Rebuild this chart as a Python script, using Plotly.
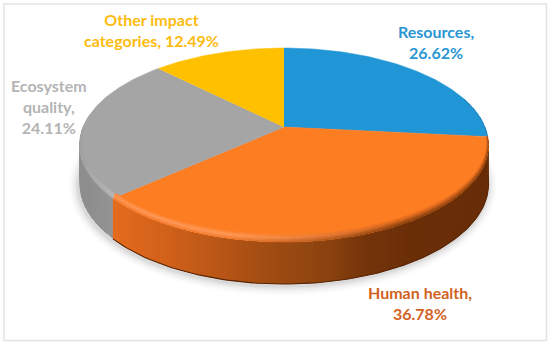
import numpy as np
import plotly.graph_objects as go

# ---- data ----
categories = ["Resources", "Human health", "Ecosystem quality", "Other impact categories"]
values = [26.62, 36.78, 24.11, 12.49]
label_lines = ["Resources,<br>26.62%", "Human health,<br>36.78%",
               "Ecosystem<br>quality,<br>24.11%", "Other impact<br>categories, 12.49%"]

# ---- styling / projection ----
colors = ["#2196d6", "#fd7d23", "#a5a5a5", "#ffc000"]
text_colors = ["#2a96d2", "#d2621e", "#b4b4b4", "#fdbb10"]
label_pos = [(436, 41.5), (420, 303), (49, 106), (151, 29.5)]
CX, CY, A, P, C = 284.0, 127.0, 201.0, 70.1, 0.1856
FONT = "Lato"


def proj(theta_deg, r=1.0):
    th = np.radians(theta_deg)
    u, v = r * np.sin(th), r * np.cos(th)
    w = 1 + C * v
    return CX + A * u / w, (CY - P * v) / w


def bottom(theta_deg):
    x, y = proj(theta_deg)
    v = np.cos(np.radians(theta_deg))
    return x, y + 38 - 4 * v


def rim(theta_deg, t):
    """point on the bevel: t=0 inner edge, t=1 the very rim"""
    x, y = proj(theta_deg, 1 - 0.012 * (1 - t))
    return x, y - 7.5 * (1 - t) * max(0.0, -np.cos(np.radians(theta_deg)) * 0.85 + 0.15)


def rgb(h):
    return np.array([int(h[i:i + 2], 16) for i in (1, 3, 5)], float)


def ramp(x, xs, cols):
    arr = np.array([rgb(c) for c in cols])
    return np.array([np.interp(x, xs, arr[:, i]) for i in range(3)])


def css(c):
    return "rgb(%d,%d,%d)" % tuple(np.round(c))


fig = go.Figure()


def poly(xs, ys, color, lw=0):
    fig.add_trace(go.Scatter(x=list(xs), y=list(ys), mode="lines", fill="toself",
                             fillcolor=color, line=dict(color=color, width=lw),
                             hoverinfo="skip", showlegend=False))


edges = np.concatenate([[0], np.cumsum(values)]) / sum(values) * 360
ALL = np.linspace(0, 360, 241)

# soft shadow under the disc
for grow, alpha in [(9, .018), (7, .03), (5, .04), (3, .05), (1.5, .06)]:
    pts = [bottom(t) for t in ALL]
    xs = [CX - 1 + (p[0] - CX) * (1 + grow / 204) for p in pts]
    ys = [186 + (p[1] - 184) * (1 + grow / 100) for p in pts]
    poly(xs, ys, "rgba(60,60,60,%g)" % alpha)

# side wall
ORANGE_X = [110, 170, 270, 330, 365, 410, 490]
ORANGE_C = ["#e56c1d", "#d0601a", "#a04c12", "#8a420e", "#74340a", "#6b2f08", "#682d07"]
GREY_X = [78, 112]
GREY_C = ["#8c8c8c", "#939393"]

for i in (2, 1):
    t0, t1 = (edges[1], edges[2]) if i == 1 else (edges[2], 276.0)
    n = 110 if i == 1 else 16
    ts = np.linspace(t0, t1, n + 1)
    for a, b in zip(ts[:-1], ts[1:]):
        b2 = min(t1, b + (b - a) * 1.2)
        p0, p1 = proj(a), proj(b2)
        q0, q1 = bottom(a), bottom(b2)
        xm = (proj(a)[0] + proj(b)[0]) / 2
        col = ramp(xm, ORANGE_X, ORANGE_C) if i == 1 else ramp(xm, GREY_X, GREY_C)
        poly([p0[0], p1[0], q1[0], q0[0]], [p0[1], p1[1], q1[1], q0[1]], css(col))
    if i == 1:
        pts = [bottom(t) for t in ts]
        fig.add_trace(go.Scatter(x=[p[0] for p in pts], y=[p[1] for p in pts], mode="lines",
                                 line=dict(color="#5a2606", width=1.1),
                                 hoverinfo="skip", showlegend=False))

# top faces of the slices
for i, col in enumerate(colors):
    ts = np.linspace(edges[i], edges[i + 1], 90)
    pts = [proj(t) for t in ts]
    poly([CX] + [p[0] for p in pts], [CY] + [p[1] for p in pts], col, 0.5)

# bevel on the rim of the front slices (painted inner to outer)
LEVELS = [0.15, 0.3, 0.45, 0.6, 0.75, 0.9]
for i, t0, t1, n in [(1, edges[1], edges[2], 48), (2, edges[2], 270.0, 12), (0, 72.0, edges[1], 8)]:
    ts = np.linspace(t0, t1, n + 1)
    for tr in LEVELS:
        if i == 0 and tr < 0.6:
            continue
        for a, b in zip(ts[:-1], ts[1:]):
            b2 = min(t1, b + (b - a) * 0.6)
            xm = proj((a + b) / 2)[0]
            if i == 1:
                s = float(np.clip((xm - 230) / 170, 0, 1))
                left = ramp(tr, [0, .5, .8, 1], ["#fd7d23", "#ff9a5a", "#f8853a", "#ea7424"])
                right = ramp(tr, [0, .45, 1], ["#fd7d23", "#d2641c", "#7a3a0c"])
                col = left * (1 - s) + right * s
            elif i == 2:
                fade = float(np.clip((xm - 112) / -34, 0, 1))
                base = ramp(tr, [0, .5, 1], ["#a5a5a5", "#bcbcbc", "#a8a8a8"])
                col = base * (1 - fade) + rgb("#a0a0a0") * fade
            else:
                col = ramp(tr, [.6, 1], ["#2196d6", "#174f75"])
            pa, pb, qb, qa = rim(a, tr), rim(b2, tr), rim(b2, 1), rim(a, 1)
            poly([pa[0], pb[0], qb[0], qa[0]], [pa[1], pb[1], qb[1], qa[1]], css(col))

annotations = [dict(x=x, y=y, xref="x", yref="y", text=txt, showarrow=False,
                    align="center", xanchor="center", yanchor="middle",
                    font=dict(family=FONT, size=16, color=c, weight="bold"))
               for (x, y), txt, c in zip(label_pos, label_lines, text_colors)]

fig.update_layout(
    width=550, height=345, margin=dict(l=0, r=0, t=0, b=0),
    paper_bgcolor="white", plot_bgcolor="white", showlegend=False,
    xaxis=dict(range=[0, 550], visible=False, fixedrange=True),
    yaxis=dict(range=[345, 0], visible=False, fixedrange=True),
    annotations=annotations,
    shapes=[dict(type="rect", x0=4, y0=4, x1=546.5, y1=340.5, xref="x", yref="y",
                 line=dict(color="#e3e3e3", width=1.5), layer="below")],
)
fig.write_html("out.html", config={"displayModeBar": False},
               post_script="document.body.style.margin='0';document.body.style.overflow='hidden';")
